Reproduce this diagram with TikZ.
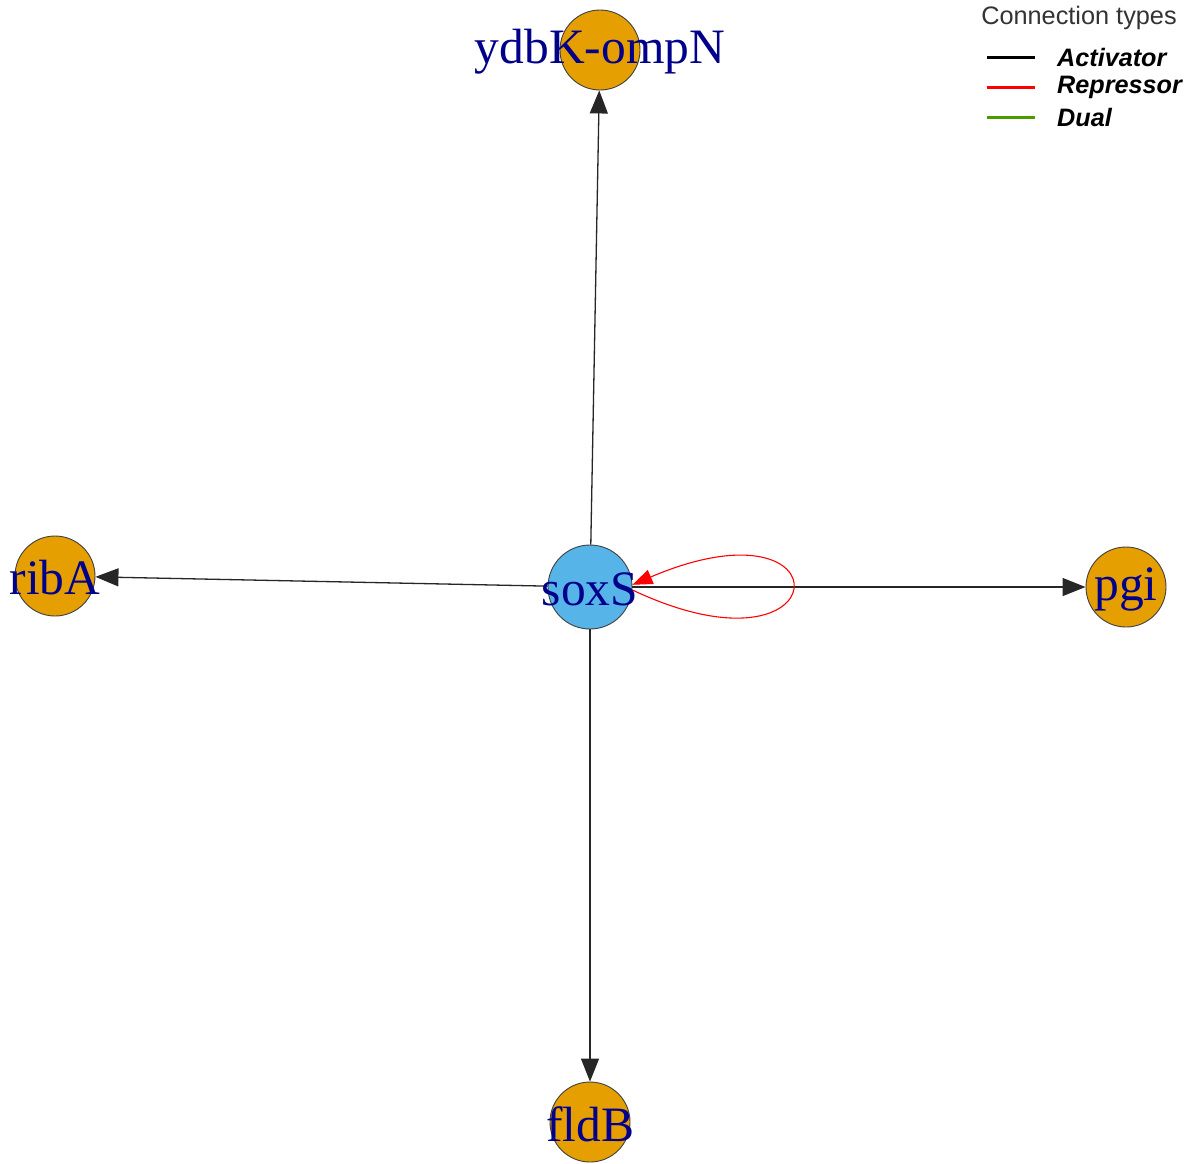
\documentclass[tikz,border=0pt]{standalone}
\usepackage{fontspec}
\setmainfont{Liberation Serif}
\newfontfamily\legendfont{Liberation Sans}
\usetikzlibrary{arrows.meta}
\definecolor{geneorange}{HTML}{E69F00}
\definecolor{geneblue}{HTML}{56B4E9}
\definecolor{labelblue}{HTML}{00008B}
\definecolor{dualgreen}{HTML}{4A9A00}
\definecolor{legendgrey}{HTML}{333333}
\tikzset{
  gene/.style={circle, draw=black!75, line width=0.9pt, minimum size=80pt, inner sep=0pt, fill=geneorange},
  hub/.style={gene, fill=geneblue, minimum size=84pt},
  genelabel/.style={text=labelblue, inner sep=0pt, font=\fontsize{49.5}{51}\selectfont},
  actedge/.style={draw=black!85, line width=1.3pt, -{Triangle[length=23pt,width=18pt]}},
  repedge/.style={draw=red, line width=1.1pt, -{Triangle[length=20pt,width=15pt]}},
  legtitle/.style={font=\legendfont\fontsize{25.3}{27}\selectfont, text=legendgrey, inner sep=0pt},
  legtext/.style={font=\legendfont\bfseries\itshape\fontsize{25.2}{27}\selectfont, text=black, inner sep=0pt, anchor=west},
  legline/.style={line width=3pt}
}
\begin{document}
\begin{tikzpicture}[x=1pt, y=-1pt]
\useasboundingbox[fill=white] (0,0) rectangle (1196,1163);
% nodes
\node[hub]  (soxS) at (590,587) {};
\node[gene] (ydbK) at (600,50) {};
\node[gene] (ribA) at (55,576) {};
\node[gene] (pgi)  at (1126,587) {};
\node[gene] (fldB) at (590,1122) {};
% edges
\draw[actedge] (soxS) -- (ydbK);
\draw[actedge] (soxS) -- (ribA);
\draw[actedge] (soxS) -- (pgi);
\draw[actedge] (soxS) -- (fldB);
% self loop
\draw[repedge] (soxS.-4) .. controls (840,688) and (850,492) .. (soxS.3);
% labels
\node[genelabel] at ([yshift=-2pt]soxS) {soxS};
\node[genelabel] at ([yshift=-2pt]ydbK) {ydbK-ompN};
\node[genelabel] at ([yshift=-2pt]ribA) {ribA};
\node[genelabel] at ([yshift=-2pt]pgi)  {pgi};
\node[genelabel] at ([yshift=-2pt]fldB) {fldB};
% legend
\node[legtitle] (legT) at (1079,18) {Connection types};
\coordinate (l1a) at (987,57);  \coordinate (l1b) at (1035,57);
\coordinate (l2a) at (987,87);  \coordinate (l2b) at (1035,87);
\coordinate (l3a) at (987,117); \coordinate (l3b) at (1035,117);
\draw[legline, black] (l1a) -- (l1b);
\draw[legline, red] (l2a) -- (l2b);
\draw[legline, dualgreen] (l3a) -- (l3b);
\node[legtext] (legA) at (1057,57) {Activator};
\node[legtext] (legR) at (1057,87) {Repressor};
\node[legtext] (legD) at (1057,117) {Dual};
\end{tikzpicture}
\end{document}
